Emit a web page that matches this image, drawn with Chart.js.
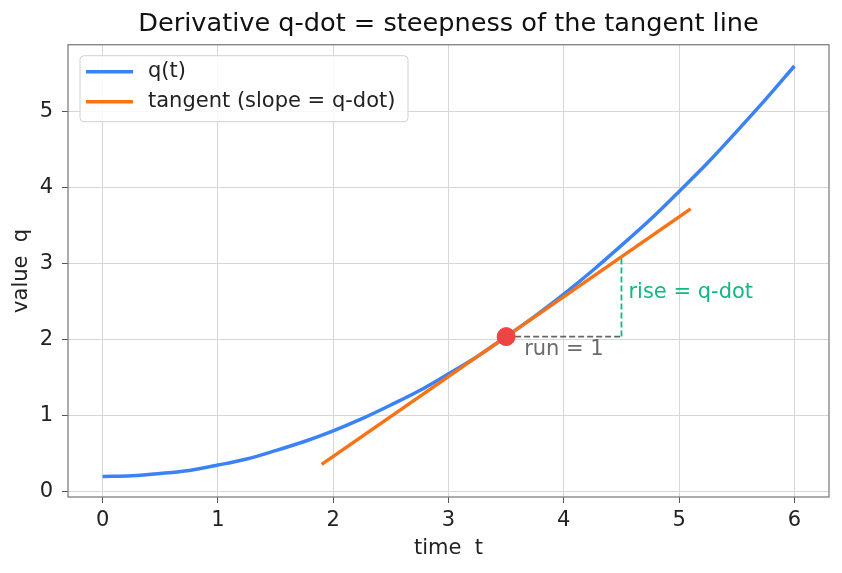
<!DOCTYPE html>
<html>
<head>
<meta charset="utf-8">
<script src="https://cdn.jsdelivr.net/npm/chart.js@4/dist/chart.umd.min.js"></script>
<style>
  html, body { margin: 0; padding: 0; background: #fff; }
  #wrap { width: 842px; height: 573px; }
</style>
</head>
<body>
<div id="wrap"><canvas id="chart"></canvas></div>
<script>
// values
var tValues = [0, 0.25, 0.5, 0.75, 1, 1.25, 1.5, 1.75, 2, 2.25, 2.5, 2.75, 3,
  3.25, 3.5, 3.75, 4, 4.25, 4.5, 4.75, 5, 5.25, 5.5, 5.75, 6];
var qValues = [0.20, 0.21, 0.24, 0.28, 0.35, 0.43, 0.54, 0.66, 0.80, 0.96, 1.14,
  1.33, 1.55, 1.78, 2.04, 2.31, 2.60, 2.91, 3.24, 3.58, 3.95, 4.33, 4.74, 5.16, 5.60];
var tangentT = [1.9, 5.1];
var tangentQ = [0.36, 3.72];
var pointT = 3.5;
var pointQ = 2.04;
var runEndT = 4.5;
var riseTopQ = 3.08;
var xTicks = [0, 1, 2, 3, 4, 5, 6];
var yTicks = [0, 1, 2, 3, 4, 5];
var legendOrder = ["q(t)", "tangent (slope = q-dot)"];

var FONT = "'DejaVu Sans', sans-serif";
var blue = "#3b82f6";
var orange = "#f97316";
var red = "#ef4444";
var green = "#10b981";
var grayDash = "#666666";

Chart.defaults.font.family = FONT;
Chart.defaults.color = "#222";

function pts(xs, ys) {
  return xs.map(function (x, i) {
    return { x: x, y: ys[i] };
  });
}

// spines on all four sides + legend box + text notes
var extras = {
  id: "extras",
  beforeDatasetsDraw: function (chart) {
    var ctx = chart.ctx, a = chart.chartArea;
    ctx.save();
    ctx.strokeStyle = "#808080";
    ctx.lineWidth = 1.3;
    ctx.strokeRect(a.left, a.top, a.right - a.left, a.bottom - a.top);
    ctx.restore();
  },
  afterDatasetsDraw: function (chart) {
    var ctx = chart.ctx, a = chart.chartArea;
    var xs = chart.scales.x, ys = chart.scales.y;
    ctx.save();
    ctx.font = "21px " + FONT;
    ctx.textBaseline = "middle";
    ctx.fillStyle = "#6b6b6b";
    ctx.fillText("run = 1", xs.getPixelForValue(pointT) + 18, ys.getPixelForValue(pointQ) + 13);
    ctx.fillStyle = green;
    ctx.fillText("rise = q-dot", xs.getPixelForValue(runEndT) + 7, ys.getPixelForValue((pointQ + riseTopQ) / 2) - 5);

    // legend
    var items = legendOrder.map(function (name) {
      return chart.data.datasets.find(function (d) { return d.label === name; });
    });
    var lx = a.left + 12, ly = a.top + 11, w = 328, h = 66;
    ctx.fillStyle = "rgba(255,255,255,0.85)";
    ctx.strokeStyle = "#d0d0d0";
    ctx.lineWidth = 1;
    ctx.beginPath();
    ctx.roundRect(lx, ly, w, h, 4);
    ctx.fill();
    ctx.stroke();
    items.forEach(function (d, i) {
      var cy = ly + 16 + i * 30;
      ctx.strokeStyle = d.borderColor;
      ctx.lineWidth = 3.5;
      ctx.beginPath();
      ctx.moveTo(lx + 6, cy);
      ctx.lineTo(lx + 53, cy);
      ctx.stroke();
      ctx.fillStyle = "#222";
      ctx.fillText(d.label, lx + 68, cy);
    });
    ctx.restore();
  }
};

new Chart("chart", {
  type: "scatter",
  data: {
    datasets: [
      {
        label: "dot",
        data: [{ x: pointT, y: pointQ }],
        backgroundColor: red,
        borderColor: red,
        pointRadius: 9,
        order: 0
      },
      {
        label: "tangent (slope = q-dot)",
        data: pts(tangentT, tangentQ),
        showLine: true,
        borderColor: orange,
        backgroundColor: orange,
        borderWidth: 3.5,
        pointRadius: 0,
        order: 1
      },
      {
        label: "q(t)",
        data: pts(tValues, qValues),
        showLine: true,
        borderColor: blue,
        backgroundColor: blue,
        borderWidth: 3.5,
        pointRadius: 0,
        cubicInterpolationMode: "monotone",
        order: 2
      },
      {
        label: "run",
        data: [{ x: pointT, y: pointQ }, { x: runEndT, y: pointQ }],
        showLine: true,
        borderColor: grayDash,
        borderWidth: 1.8,
        borderDash: [6, 3],
        pointRadius: 0,
        order: 3
      },
      {
        label: "rise",
        data: [{ x: runEndT, y: pointQ }, { x: runEndT, y: riseTopQ }],
        showLine: true,
        borderColor: green,
        borderWidth: 1.8,
        borderDash: [6, 3],
        pointRadius: 0,
        order: 3
      }
    ]
  },
  options: {
    responsive: true,
    maintainAspectRatio: false,
    animation: false,
    layout: { padding: { top: 0, right: 13, bottom: 0, left: 0 } },
    plugins: {
      legend: { display: false },
      tooltip: { enabled: false },
      title: {
        display: true,
        fullSize: false,
        text: "Derivative q-dot = steepness of the tangent line",
        color: "#111",
        font: { size: 25.6, weight: "normal" },
        padding: { top: 9, bottom: 5 }
      }
    },
    scales: {
      x: {
        type: "linear",
        min: -0.3,
        max: 6.3,
        afterBuildTicks: function (s) {
          s.ticks = xTicks.map(function (v) { return { value: v }; });
        },
        afterFit: function (s) { s.height = 76; },
        grid: { color: "#d6d6d6", tickColor: "#555", tickLength: 6, lineWidth: 1 },
        border: { display: false },
        ticks: { font: { size: 21 }, color: "#222", padding: 5 },
        title: { display: true, text: "time  t", font: { size: 21 }, color: "#222", padding: { top: 0, bottom: 12 } }
      },
      y: {
        type: "linear",
        min: -0.07,
        max: 5.88,
        afterBuildTicks: function (s) {
          s.ticks = yTicks.map(function (v) { return { value: v }; });
        },
        afterFit: function (s) { s.width = 68; },
        grid: { color: "#d6d6d6", tickColor: "#555", tickLength: 6, lineWidth: 1 },
        border: { display: false },
        ticks: { font: { size: 21 }, color: "#222", padding: 9 },
        title: { display: true, text: "value  q", font: { size: 21 }, color: "#222", padding: { top: 9, bottom: 0 } }
      }
    }
  },
  plugins: [extras]
});
</script>
</body>
</html>
